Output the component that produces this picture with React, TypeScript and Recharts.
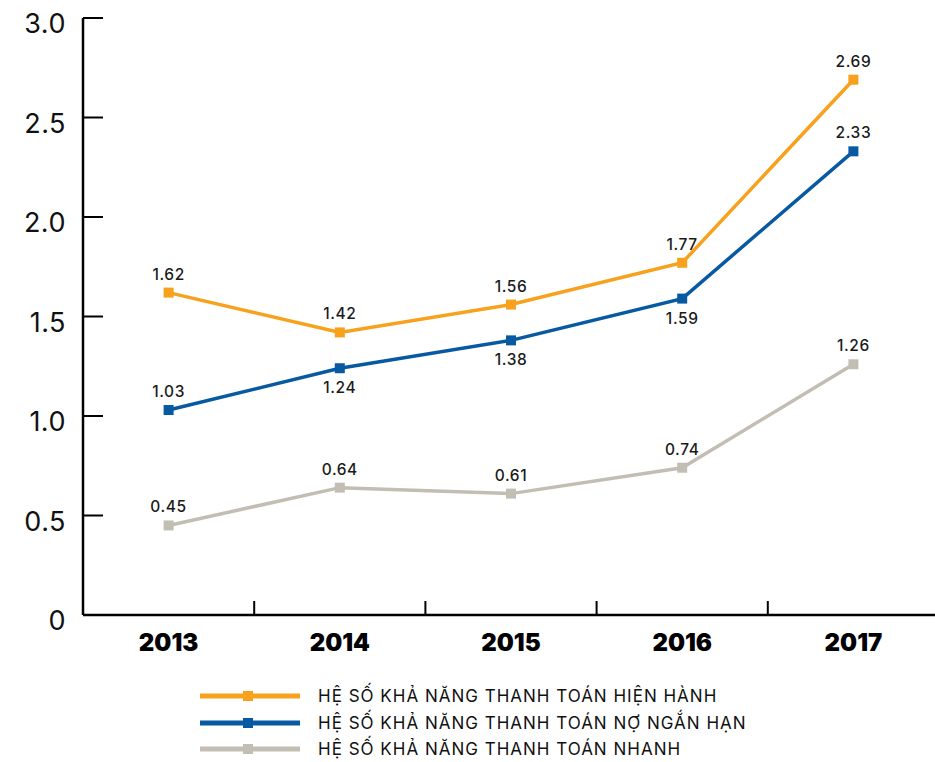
import React from "react";
import { LineChart, Line, XAxis, YAxis, LabelList } from "recharts";

const years = ["2013", "2014", "2015", "2016", "2017"];
const currentRatio = [1.62, 1.42, 1.56, 1.77, 2.69];
const shortDebtRatio = [1.03, 1.24, 1.38, 1.59, 2.33];
const quickRatio = [0.45, 0.64, 0.61, 0.74, 1.26];
const yTicks = [0, 0.5, 1, 1.5, 2, 2.5, 3];
const yTickLabels = ["0", "0.5", "1.0", "1.5", "2.0", "2.5", "3.0"];
const seriesNames = [
  "HỆ SỐ KHẢ NĂNG THANH TOÁN HIỆN HÀNH",
  "HỆ SỐ KHẢ NĂNG THANH TOÁN NỢ NGẮN HẠN",
  "HỆ SỐ KHẢ NĂNG THANH TOÁN NHANH",
];

const chartData = years.map((year, i) => ({
  year,
  current: currentRatio[i],
  shortDebt: shortDebtRatio[i],
  quick: quickRatio[i],
}));

const FONT = "Inter, 'Noto Sans', sans-serif";
const CHART_W = 940;
const CHART_H = 762;
const PLOT_LEFT = 83;
const PLOT_TOP = 18;
const PLOT_BOTTOM = 615;
const HALF_BAND = (CHART_W - 1 - PLOT_LEFT) / years.length / 2;

const series = [
  { key: "current", color: "#F7A11D", name: seriesNames[0] },
  { key: "shortDebt", color: "#0759A1", name: seriesNames[1] },
  { key: "quick", color: "#C3BEB4", name: seriesNames[2] },
];

// blue labels sit below the point in the middle years
const belowFor: Record<string, number[]> = { shortDebt: [1, 2, 3] };

const SquareDot = (color: string) => (props: any) => {
  const { cx, cy } = props;
  if (cx == null || cy == null) return null;
  return <rect x={cx - 5} y={cy - 5} width={10} height={10} fill={color} />;
};

const makeLabel = (key: string) => (props: any) => {
  const { x, y, value, index } = props;
  const below = (belowFor[key] || []).includes(index);
  return (
    <text
      x={x}
      y={below ? y + 25 : y - 13}
      textAnchor="middle"
      fontFamily={FONT}
      fontSize={15.5}
      fontWeight={500}
      letterSpacing={0.6}
      fill="#1a1a1a"
    >
      {value.toFixed(2)}
    </text>
  );
};

const YTick = (props: any) => {
  const { x, y, payload, index } = props;
  return (
    <g>
      <line x1={x} y1={y} x2={x + 20} y2={y} stroke="#000" strokeWidth={2} />
      <text
        x={x - 17}
        y={y + 15}
        textAnchor="end"
        fontFamily={FONT}
        fontSize={27}
        fontWeight={400}
        letterSpacing={0.5}
        fill="#111"
      >
        {yTickLabels[yTicks.indexOf(payload.value)] ?? yTickLabels[index]}
      </text>
    </g>
  );
};

const XTick = (props: any) => {
  const { x, y, payload, index } = props;
  return (
    <g>
      {index < years.length - 1 && (
        <line
          x1={x + HALF_BAND}
          y1={y - 14}
          x2={x + HALF_BAND}
          y2={y}
          stroke="#000"
          strokeWidth={2}
        />
      )}
      <text
        x={x}
        y={y + 36}
        textAnchor="middle"
        fontFamily={FONT}
        fontSize={24}
        fontWeight={900}
        fill="#000"
      >
        {payload.value}
      </text>
    </g>
  );
};

export default function App() {
  return (
    <div
      style={{
        position: "fixed",
        left: 0,
        top: 0,
        width: 935,
        height: 762,
        overflow: "hidden",
        background: "#fff",
      }}
    >
      <LineChart
        width={CHART_W}
        height={CHART_H}
        data={chartData}
        margin={{ top: PLOT_TOP, right: 1, bottom: 0, left: 0 }}
      >
        <XAxis
          dataKey="year"
          scale="band"
          height={CHART_H - PLOT_BOTTOM}
          axisLine={{ stroke: "#000", strokeWidth: 2.5 }}
          tickLine={false}
          tickSize={0}
          tickMargin={0}
          interval={0}
          tick={<XTick />}
        />
        <YAxis
          domain={[0, 3]}
          ticks={yTicks}
          width={PLOT_LEFT}
          axisLine={{ stroke: "#000", strokeWidth: 2.5 }}
          tickLine={false}
          tickSize={0}
          tickMargin={0}
          interval={0}
          tick={<YTick />}
        />
        {series.map((s) => (
          <Line
            key={s.key}
            dataKey={s.key}
            name={s.name}
            type="linear"
            stroke={s.color}
            strokeWidth={3.5}
            dot={SquareDot(s.color)}
            activeDot={false}
            isAnimationActive={false}
          >
            <LabelList dataKey={s.key} content={makeLabel(s.key)} />
          </Line>
        ))}
      </LineChart>
      <div style={{ position: "absolute", left: 200, top: 683 }}>
        {series.map((s) => (
          <div
            key={s.key}
            style={{ display: "flex", alignItems: "center", height: 26.5 }}
          >
            <svg width={100} height={14} style={{ marginRight: 18 }}>
              <line x1={0} y1={7} x2={100} y2={7} stroke={s.color} strokeWidth={5} />
              <rect x={43} y={2} width={10} height={10} fill={s.color} />
            </svg>
            <span
              style={{
                fontFamily: FONT,
                fontSize: 17,
                letterSpacing: 1,
                color: "#111",
                whiteSpace: "nowrap",
              }}
            >
              {s.name}
            </span>
          </div>
        ))}
      </div>
    </div>
  );
}
